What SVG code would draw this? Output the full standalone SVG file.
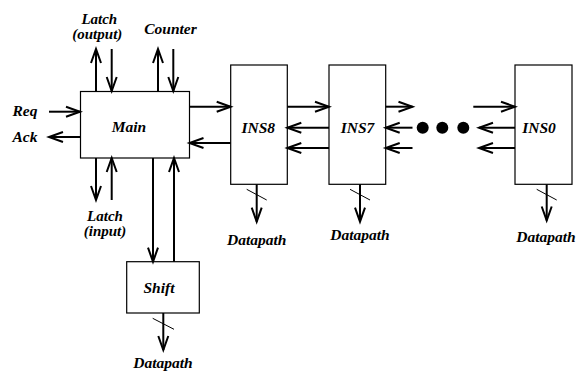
<svg xmlns="http://www.w3.org/2000/svg" width="579" height="371" viewBox="0 0 579 371">
<style>
.box{fill:#fff;stroke:#000;stroke-width:1.2}
.c{fill:none;stroke:#000;stroke-width:2;marker-end:url(#ah)}
.s{fill:none;stroke:#000;stroke-width:1}
text{font-family:"Liberation Serif","Times New Roman",serif;font-weight:bold;font-style:italic;font-size:15.5px;fill:#000;text-anchor:middle}
.t2{font-size:15px}
</style>
<defs>
<marker id="ah" markerUnits="userSpaceOnUse" markerWidth="20" markerHeight="20" refX="0" refY="0" orient="auto" overflow="visible">
<path d="M-14,-5 L0,0 L-14,5" fill="none" stroke="#000" stroke-width="2"/>
</marker>
</defs>
<rect width="579" height="371" fill="#fff"/>
<g id="main"><rect class="box" x="80.5" y="91.5" width="109" height="66.5"/><text x="129" y="131.5">Main</text></g>
<g id="shift"><rect class="box" x="126.7" y="261.7" width="72.6" height="51.3"/><text x="159" y="293.3">Shift</text></g>
<g id="ins8"><rect class="box" x="230.7" y="65" width="56.6" height="119.3"/><text x="258.3" y="132.7">INS8</text></g>
<g id="ins7"><rect class="box" x="329" y="65" width="56.7" height="119.3"/><text x="357.5" y="132.7">INS7</text></g>
<g id="ins0"><rect class="box" x="515" y="65" width="57" height="119.3"/><text x="539" y="132.5">INS0</text></g>
<g id="labels">
<text class="t2" x="99.3" y="23.5">Latch</text>
<text class="t2" x="97.3" y="39">(output)</text>
<text x="170.5" y="34">Counter</text>
<text x="12.5" y="116" style="text-anchor:start">Req</text>
<text x="12.5" y="142" style="text-anchor:start">Ack</text>
<text class="t2" x="105" y="220.5">Latch</text>
<text class="t2" x="105" y="236">(input)</text>
<text x="256.7" y="245">Datapath</text>
<text x="360" y="240">Datapath</text>
<text x="546" y="241.7">Datapath</text>
<text x="163" y="368">Datapath</text>
</g>
<g id="dots">
<circle cx="422.7" cy="127.7" r="6"/>
<circle cx="442.3" cy="127.7" r="6"/>
<circle cx="463.3" cy="127.7" r="6"/>
</g>
<g id="connectors">
<path class="c" d="M96,91 L96,49"/>
<path class="c" d="M111.7,49 L111.7,91"/>
<path class="c" d="M158,91 L158,49"/>
<path class="c" d="M173.3,49 L173.3,91"/>
<path class="c" d="M49,111.7 L80,111.7"/>
<path class="c" d="M80,137 L49,137"/>
<path class="c" d="M96,158 L96,200"/>
<path class="c" d="M111.7,200 L111.7,158"/>
<path class="c" d="M153,158 L153,261.7"/>
<path class="c" d="M174,261.7 L174,158"/>
<path class="c" d="M189.5,106.7 L230.7,106.7"/>
<path class="c" d="M230.7,143 L189.5,143"/>
<path class="c" d="M287.3,106.7 L329,106.7"/>
<path class="c" d="M329,127.7 L287.3,127.7"/>
<path class="c" d="M329,148 L287.3,148"/>
<path class="c" d="M385.7,106.7 L412.5,106.7"/>
<path class="c" d="M412.5,127.7 L385.7,127.7"/>
<path class="c" d="M412.5,148 L385.7,148"/>
<path class="c" d="M473.3,106.7 L515,106.7"/>
<path class="c" d="M515,127.7 L479,127.7"/>
<path class="c" d="M515,148 L479,148"/>
<path class="c" d="M256.7,184.3 L256.7,221.7"/>
<path class="c" d="M360,184.3 L360,221.7"/>
<path class="c" d="M546.7,184.3 L546.7,220.5"/>
<path class="c" d="M163.3,313 L163.3,350"/>
<path class="s" d="M246.7,189.3 L266.7,200"/>
<path class="s" d="M350,189.3 L370,200"/>
<path class="s" d="M536.7,189.3 L556.7,200"/>
<path class="s" d="M152.7,318.3 L174,329.3"/>
</g>
</svg>
